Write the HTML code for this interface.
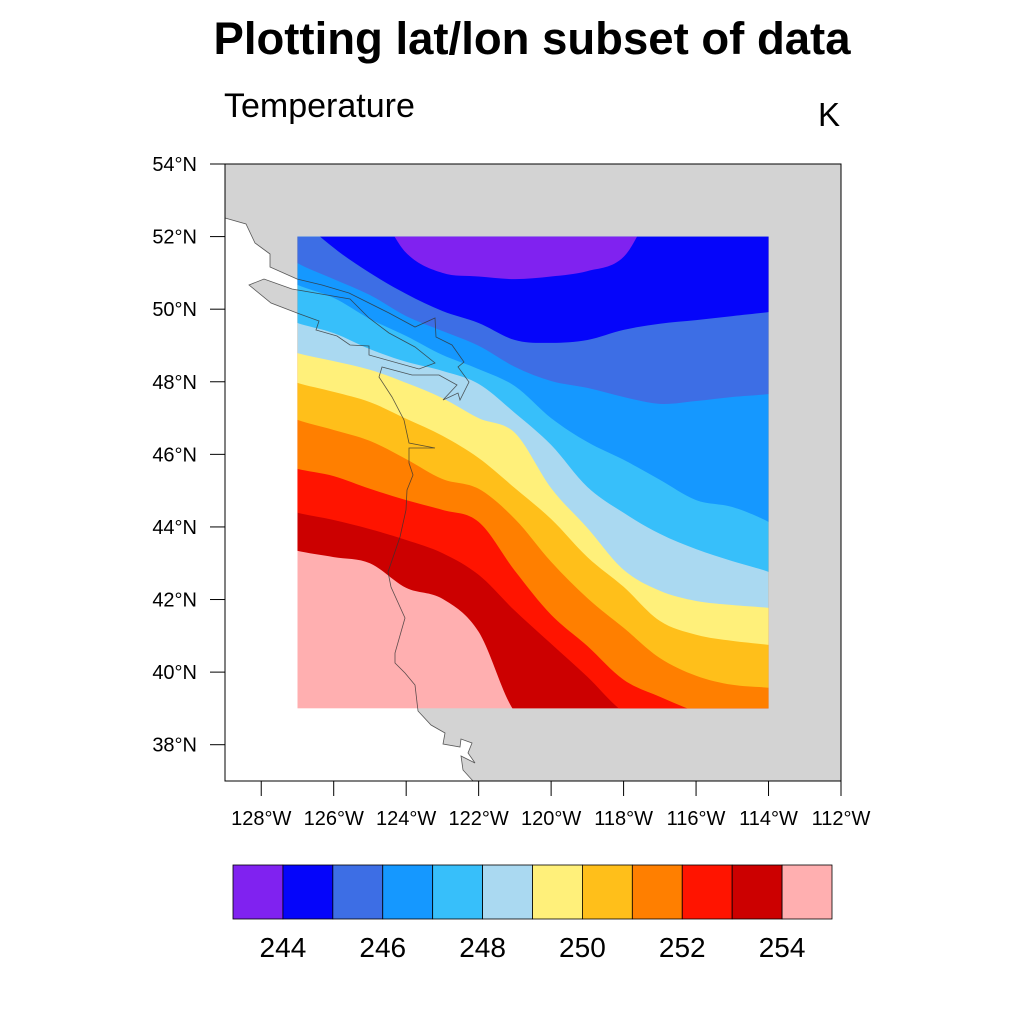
<!DOCTYPE html>
<html><head><meta charset="utf-8"><style>
html,body{margin:0;padding:0;background:#fff}
svg{display:block;font-family:"Liberation Sans",sans-serif}
</style></head><body>
<svg id="chart" width="1024" height="1024" viewBox="0 0 1024 1024" xmlns="http://www.w3.org/2000/svg">
<text x="532" y="54" text-anchor="middle" font-size="45.5" font-weight="bold">Plotting lat/lon subset of data</text>
<text x="224" y="117" font-size="34">Temperature</text>
<text x="818" y="126" font-size="33">K</text>
<g id="map"></g>
<g id="axes"></g>
<g id="cbar"></g>
</svg>
<script>
const lons = [-127,-126,-125,-124,-123,-122,-121,-120,-119,-118,-117,-116,-115,-114];
const levels = [244,245,246,247,248,249,250,251,252,253,254];
const b244 = [53,53,53,51.55,51.0,50.9,50.83,50.9,51.05,51.44,53,53,53,53];
const b245 = [52.6,51.69,51.0,50.42,49.95,49.62,49.15,49.07,49.15,49.43,49.6,49.7,49.81,49.92];
const b246 = [51.27,50.83,50.39,49.81,49.4,48.99,48.41,48.02,47.83,47.58,47.39,47.47,47.58,47.66];
const b247 = [50.67,50.31,49.73,49.26,48.74,48.35,47.88,47.0,46.34,45.85,45.3,44.74,44.55,44.14];
const b248 = [49.62,49.34,48.9,48.55,48.3,47.94,47.14,46.26,45.1,44.39,43.81,43.39,43.06,42.76];
const b249 = [48.79,48.57,48.33,47.97,47.55,47.0,46.59,45.07,43.97,42.82,42.24,41.96,41.85,41.77];
const b250 = [47.97,47.72,47.44,46.98,46.51,45.9,45.07,44.22,43.17,42.35,41.41,41.03,40.86,40.75];
const b251 = [46.95,46.67,46.37,45.87,45.32,45.05,44.22,43.04,42.04,41.22,40.39,39.9,39.65,39.57];
const b252 = [45.6,45.4,45.05,44.74,44.47,44.14,42.79,41.58,40.72,39.79,39.32,38.9,38.5,38.5];
const b253 = [44.39,44.19,43.94,43.64,43.28,42.68,41.69,40.78,39.87,38.9,38.5,38.5,38.5,38.5];
const b254 = [43.34,43.17,43.0,42.32,42.02,41.11,38.9,38.5,38.5,38.5,38.5,38.5,38.5,38.5];
const colors = ['#8022f0','#0505fa','#3d6ee5','#1598ff','#37bffa','#aad9f1','#fff07a','#ffbf1a','#ff7f00','#ff1400','#cc0000','#ffafb0'];
const latTicks = [38,40,42,44,46,48,50,52,54];
const lonTicks = [-128,-126,-124,-122,-120,-118,-116,-114,-112];
const cbLabels = [244,246,248,250,252,254];

const NS='http://www.w3.org/2000/svg';
const X0=225,X1=841,Y0=164,Y1=781,LON0=-129,LON1=-112,LAT0=37,LAT1=54;
const xs=lon=>X0+(lon-LON0)/(LON1-LON0)*(X1-X0);
const ys=lat=>Y1-(lat-LAT0)/(LAT1-LAT0)*(Y1-Y0);
function mk(t,a,p){const e=document.createElementNS(NS,t);for(const k in a)e.setAttribute(k,a[k]);p.appendChild(e);return e;}
const map=document.getElementById('map'),axes=document.getElementById('axes'),cbar=document.getElementById('cbar');

const coast="225,218 246,224 255,243 270,254 270,267 297,279 322,285 349,293 389,313 415,327 435,318 436,337 452,345 464,362 458,367 469,382 460,400 458,393 443,400 457,385 439,375 412,375 382,367 379,377 392,397 404,420 409,443 435,448 409,448 409,463 413,475 407,490 406,510 400,537 388,572 391,587 405,618 395,653 395,663 405,673 415,685 418,711 431,725 445,733 443,744 460,747 461,739 472,743 468,753 475,763 461,756 463,770 473,781";
const island="249,285 264,279 292,289 350,299 369,318 389,333 415,347 435,363 419,369 369,355 369,346 350,345 337,336 316,330 319,321 297,313 271,303";
let land=mk('polygon',{points:'225,164 841,164 841,781 '+coast.split(' ').reverse().join(' '),fill:'#d3d3d3',stroke:'none'},map);


let isl=mk('polygon',{points:island,fill:'#d3d3d3',stroke:'none'},map);



const dl=-127,dr=-114,db=39,dt=52;
const clip=mk('clipPath',{id:'dclip'},map);
mk('rect',{x:xs(dl),y:ys(dt),width:xs(dr)-xs(dl),height:ys(db)-ys(dt)},clip);
const g=mk('g',{'clip-path':'url(#dclip)'},map);
let base=mk('rect',{x:xs(dl),y:ys(dt),width:xs(dr)-xs(dl),height:ys(db)-ys(dt),fill:colors[11]},g);


const bounds=[b244,b245,b246,b247,b248,b249,b250,b251,b252,b253,b254];
function smooth(P){
  let d='L'+P[0][0].toFixed(1)+','+P[0][1].toFixed(1);
  for(let i=0;i<P.length-1;i++){
    const p0=P[Math.max(0,i-1)],p1=P[i],p2=P[i+1],p3=P[Math.min(P.length-1,i+2)];
    const c1=[p1[0]+(p2[0]-p0[0])/6,p1[1]+(p2[1]-p0[1])/6];
    const c2=[p2[0]-(p3[0]-p1[0])/6,p2[1]-(p3[1]-p1[1])/6];
    d+='C'+c1.map(v=>v.toFixed(1)).join(',')+' '+c2.map(v=>v.toFixed(1)).join(',')+' '+p2.map(v=>v.toFixed(1)).join(',');
  }
  return d;
}
for(let k=bounds.length-1;k>=0;k--){
  const b=bounds[k];
  let P=[[xs(dl)-20,ys(b[0]+(b[0]-b[1]))]];
  for(let i=0;i<lons.length;i++)P.push([xs(lons[i]),ys(b[i])]);
  const n=b.length;
  P.push([xs(dr)+20,ys(b[n-1]+(b[n-1]-b[n-2]))]);
  const d='M'+(xs(dl)-20)+','+ys(62)+' '+smooth(P)+' L'+(xs(dr)+20)+','+ys(62)+' Z';
  let p=mk('path',{d:d,fill:colors[k]},g);
  
  
}
let cl=mk('polyline',{points:coast,fill:'none',stroke:'#333',"stroke-width":0.8,"stroke-opacity":0.8},map);


let il=mk('polygon',{points:island,fill:'none',stroke:'#333',"stroke-width":0.8,"stroke-opacity":0.8},map);



let fr=mk('rect',{x:X0,y:Y0,width:X1-X0,height:Y1-Y0,fill:'none',stroke:'#000','stroke-width':1},axes);


latTicks.forEach(v=>{
  const y=ys(v);
  let t=mk('line',{x1:X0-15,x2:X0,y1:y,y2:y,stroke:'#000','stroke-width':1},axes);
  
  
  let tx=mk('text',{x:X0-28,y:y+7,'text-anchor':'end','font-size':20},axes);
  tx.textContent=v+'°N';
  
  
});
lonTicks.forEach(v=>{
  const x=xs(v);
  let t=mk('line',{x1:x,x2:x,y1:Y1,y2:Y1+15,stroke:'#000','stroke-width':1},axes);
  
  
  let tx=mk('text',{x:x,y:825,'text-anchor':'middle','font-size':20},axes);
  tx.textContent=Math.abs(v)+'°W';
  
  
});

const CB0=233,CB1=832,CBT=865,CBB=919,bw=(CB1-CB0)/colors.length;
colors.forEach((c,i)=>{
  let r=mk('rect',{x:CB0+i*bw,y:CBT,width:bw,height:CBB-CBT,fill:c,stroke:'#000','stroke-width':0.8},cbar);
  
  
});
cbLabels.forEach(v=>{
  const i=levels.indexOf(v)+1;
  let tx=mk('text',{x:CB0+i*bw,y:957,'text-anchor':'middle','font-size':28},cbar);
  tx.textContent=v;
  
  
});
</script>
</body></html>
